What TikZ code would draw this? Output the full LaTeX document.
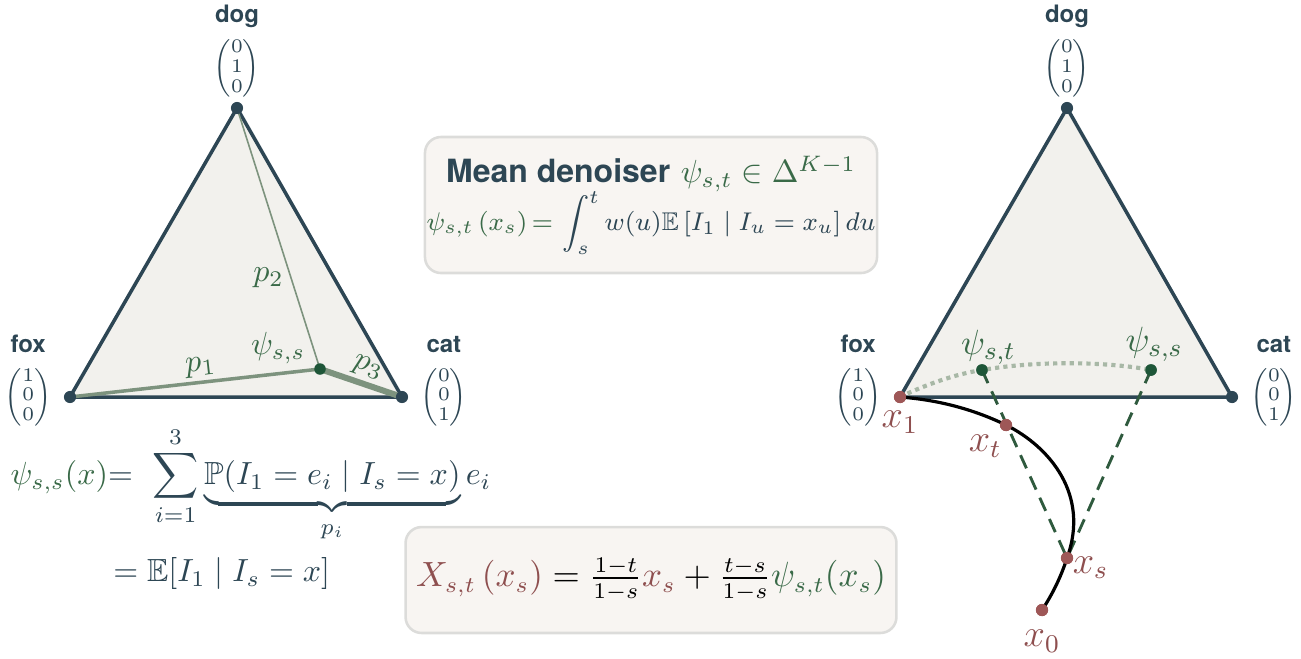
\documentclass[tikz,border=0pt]{standalone}
\usepackage{amsmath,amssymb}
\usepackage{fontspec}
\setsansfont{TeX Gyre Heros}
\usepackage{tikz}
\usetikzlibrary{positioning,calc}
\definecolor{slate}{HTML}{2D4654}
\definecolor{simfill}{HTML}{F2F1ED}
\definecolor{psidark}{HTML}{1E5638}
\definecolor{psitext}{HTML}{3A6A48}
\definecolor{mixg}{HTML}{7D937E}
\definecolor{arcg}{HTML}{A8B8A6}
\definecolor{guideg}{HTML}{2F5A3E}
\definecolor{trajred}{HTML}{9E5757}
\definecolor{trajtext}{HTML}{8E4F4F}
\definecolor{boxfill}{HTML}{F8F5F2}
\definecolor{boxrule}{HTML}{DCDCDA}
\newcommand{\onehot}[3]{$\left(\begin{array}{@{}c@{}}#1\\#2\\#3\end{array}\right)$}
\tikzset{
  simplex/.style={draw=slate, line width=1.1pt, fill=simfill, line join=round},
  vtx/.style={circle, fill=slate, inner sep=0pt, minimum size=3.8pt},
  psidot/.style={circle, fill=psidark, inner sep=0pt, minimum size=3.6pt},
  xdot/.style={circle, fill=trajred, inner sep=0pt, minimum size=3.8pt},
  catname/.style={font=\sffamily\bfseries\fontsize{7.5}{9}\selectfont,
                  text=slate, inner sep=1pt},
  onehot/.style={text=slate, inner sep=0pt, font=\fontsize{6}{6.2}\selectfont},
  mix/.style={draw=mixg, line cap=round},
  glbl/.style={text=psitext, inner sep=1pt},
  xlbl/.style={text=trajtext, inner sep=1pt, font=\fontsize{12}{14}\selectfont},
  eqn/.style={text=slate, inner sep=0pt},
  infobox/.style={draw=boxrule, line width=0.8pt, fill=boxfill,
                  rounded corners=5pt, align=center, inner sep=2pt},
  guide/.style={draw=guideg, line width=0.9pt, dash pattern=on 4.5pt off 2.8pt},
  dotarc/.style={draw=arcg, line width=1.3pt, dash pattern=on 1.3pt off 1.3pt},
  trajline/.style={draw=black, line width=1pt},
}
\begin{document}
\begin{tikzpicture}[x=0.3125pt, y=-0.3125pt]
\useasboundingbox (0,0) rectangle (1301,658);

% ---- LEFT SIMPLEX ----
\coordinate (ldogc) at (237,108);
\coordinate (lfoxc) at (70,397);
\coordinate (lcatc) at (402,397);
\coordinate (lpsic) at (320,369);
\draw[simplex] (lfoxc) -- (ldogc) -- (lcatc) -- cycle;

\draw[mix, line width=0.5pt] (lpsic) -- node[glbl, pos=0.35, left=1pt] (lp2) {$p_2$} (ldogc);
\draw[mix, line width=1.1pt] (lfoxc) -- node[glbl, pos=0.53, above, sloped] (lp1) {$p_1$} (lpsic);
\draw[mix, line width=1.9pt] (lpsic) -- node[glbl, pos=0.52, above=0pt, sloped] (lp3) {$p_3$} (lcatc);

\node[vtx] (ldog) at (ldogc) {};
\node[vtx] (lfox) at (lfoxc) {};
\node[vtx] (lcat) at (lcatc) {};
\node[psidot] (lpsi) at (lpsic) {};
\node[glbl, above left=-1pt and 2pt of lpsi] (lpsilbl) {$\psi_{s,s}$};

\node[onehot, above=0.8pt of ldog] (ldogv) {\onehot010};
\node[catname, above=2pt of ldogv] (ldogn) {dog};
\node[onehot, left=3.5pt of lfox] (lfoxv) {\onehot100};
\node[catname, above=3pt of lfoxv] (lfoxn) {fox};
\node[onehot, right=3.5pt of lcat] (lcatv) {\onehot001};
\node[catname, above=3pt of lcatv] (lcatn) {cat};

% ---- psi_{s,s} formula ----
\node[eqn, anchor=north west] (psieq) at (10,426) {$\begin{aligned}
  {\color{psitext}\psi_{s,s}(x)}{=}\mkern8mu&\sum_{i=1}^{3}\underbrace{\mathbb{P}(I_1=e_i\mid I_s=x)}_{p_i}e_i\\
  {=}\mkern5mu&\mathbb{E}[I_1\mid I_s=x]
\end{aligned}$};

% ---- boxes ----
\node[infobox, minimum width=140.3pt, minimum height=42.5pt, inner xsep=0.5pt] (mean) at (651,205) {%
  {\sffamily\bfseries\color{slate}Mean denoiser} ${\color{psitext}\psi_{s,t}\in\Delta^{K-1}}$\\[-1pt]
  {\fontsize{8}{9.6}\selectfont$\displaystyle{\color{psitext}\psi_{s,t}\left(x_s\right){=}}\,\color{slate}\int_s^t w(u)\mathbb{E}\left[I_1\mid I_u=x_u\right]du$}};
\node[infobox, minimum width=153.4pt, minimum height=33.1pt, font=\fontsize{10.7}{12.8}\selectfont] (interp) at (651,580) {%
  ${\color{trajtext}X_{s,t}\left(x_s\right)}=\frac{1-t}{1-s}{\color{trajtext}x_s}+\frac{t-s}{1-s}{\color{psitext}\psi_{s,t}(x_s)}$};

% ---- RIGHT SIMPLEX ----
\coordinate (rdogc) at (1067,108);
\coordinate (rfoxc) at (900,397);
\coordinate (rcatc) at (1232,397);
\draw[simplex] (rfoxc) -- (rdogc) -- (rcatc) -- cycle;

\node[vtx] (rdog) at (rdogc) {};
\node[vtx] (rcat) at (rcatc) {};
\node[psidot] (rpst) at (982,370) {};
\node[psidot] (rpss) at (1151,370) {};
\node[xdot] (x1) at (rfoxc) {};
\node[xdot] (xt) at (1006,425) {};
\node[xdot] (xs) at (1067,558) {};
\node[xdot] (x0) at (1042,610) {};

% dotted arc + guides + trajectory
\draw[dotarc] (x1.center) .. controls (925,385) and (955,374) .. (rpst.center)
              .. controls (1040,360) and (1110,362) .. (rpss.center);
\draw[guide] (rpst.center) -- (xs.center);
\draw[guide] (rpss.center) -- (xs.center);
\draw[trajline] (x1.center) .. controls (940,400) and (975,410) .. (xt.center)
                .. controls (1050,447) and (1090,495) .. (xs.center)
                .. controls (1060,580) and (1050,598) .. (x0.center);
\foreach \p/\s in {rpst/psidot, rpss/psidot, x1/xdot, xt/xdot, xs/xdot, x0/xdot}
  \node[\s] at (\p) {};

\node[onehot, above=0.8pt of rdog] (rdogv) {\onehot010};
\node[catname, above=2pt of rdogv] (rdogn) {dog};
\node[onehot, left=3.5pt of x1] (rfoxv) {\onehot100};
\node[catname, above=3pt of rfoxv] (rfoxn) {fox};
\node[onehot, right=3.5pt of rcat] (rcatv) {\onehot001};
\node[catname, above=3pt of rcatv] (rcatn) {cat};

\node[glbl, above=-1.5pt of rpst, xshift=2pt, font=\fontsize{11}{13}\selectfont] (rpstl) {$\psi_{s,t}$};
\node[glbl, above=-0.5pt of rpss, xshift=1pt, font=\fontsize{11}{13}\selectfont] (rpssl) {$\psi_{s,s}$};
\node[xlbl, below=1pt of x1, xshift=0pt] (x1l) {$x_1$};
\node[xlbl, below left=0.5pt and -1.3pt of xt] (xtl) {$x_t$};
\node[xlbl, right=-1.5pt of xs, yshift=-3pt] (xsl) {$x_s$};
\node[xlbl, below=3pt of x0] (x0l) {$x_0$};

\end{tikzpicture}
\end{document}
